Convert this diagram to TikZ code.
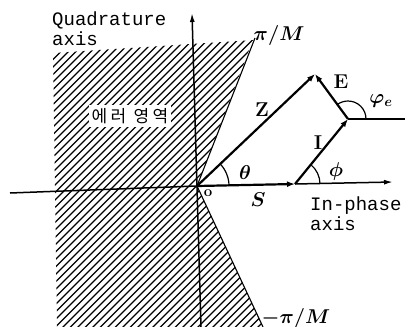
\RequirePackage{fix-cm}
\documentclass[tikz,border=0pt]{standalone}
\usepackage{fontspec}
\newfontfamily\monofont{Liberation Mono}
\newfontfamily\krfont[LetterSpace=20]{Noto Sans CJK KR}
\usetikzlibrary{arrows.meta}
\begin{document}
\begin{tikzpicture}[x=1pt,y=1pt,
  axisline/.style={line width=1.5pt},
  vec/.style={line width=2.2pt,-{Latex[length=8pt,width=6pt]}},
  thinline/.style={line width=1.1pt},
  hatchline/.style={line width=1.2pt},
  lbl/.style={inner sep=0pt, font=\fontsize{20}{22}\selectfont\bfseries\boldmath},
  axlbl/.style={inner sep=0pt, font=\monofont\fontsize{19}{20}\selectfont, align=left, anchor=west},
  anglearc/.style={line width=1.2pt}]
\useasboundingbox (0,0) rectangle (413,-327);
\coordinate (O) at (197,-186);
\coordinate (A) at (295,-184);
\coordinate (B) at (348,-119);
\coordinate (C) at (315,-74);
\coordinate (PM) at (255,-38);
\coordinate (NM) at (263,-327);
\coordinate (Vtop) at (192,-13);
\coordinate (Vbot) at (201,-327);
\coordinate (Hl) at (10,-193);
\coordinate (Hr) at (393,-182);
\coordinate (Bref) at (405,-119);
% hatched error region
\begin{scope}
  \clip (53,-53) -- (253,-40) -- (O) -- (NM) -- (57,-327) -- cycle;
  \foreach \k in {-600,-592.5,...,-80} \draw[hatchline] (0,\k) -- (420,{\k+420});
\end{scope}
\draw[thinline] (O) -- (PM);
\draw[thinline] (O) -- (NM);
% axes
\draw[axisline] (Hl) -- (O);
\draw[axisline,-{Latex[length=9pt,width=5pt]}] (A) -- (Hr);
\draw[axisline,-{Latex[length=9pt,width=5pt]}] (Vbot) -- (Vtop);
\node[fill=white, inner sep=3pt, font=\krfont\fontsize{17}{20}\selectfont] (err) at (130,-116) {에러 영역};
% vectors
\draw[vec] (O) -- (A);
\draw[vec] (A) -- (B);
\draw[vec] (O) -- (C);
\draw[vec] (B) -- (C);
\draw[thinline] (B) -- (Bref);
% angle arcs
\draw[anglearc] ([shift={(0:32)}]O) arc[start angle=0,end angle=43.5,radius=32];
\draw[anglearc] ([shift={(0:25)}]A) arc[start angle=0,end angle=50.8,radius=25];
\draw[anglearc] ([shift={(0:18)}]B) arc[start angle=0,end angle=126.3,radius=18];
% axis labels
\node[axlbl] (qlbl) at (52,-29) {Quadrature\\axis};
\node[axlbl] (plbl) at (310,-214) {In-phase\\axis};
% labels
\node[lbl] (lZ) at (262,-110) {Z};
\node[lbl] (lE) at (341,-82) {E};
\node[lbl] (lI) at (318,-143) {I};
\node[lbl] (lS) at (258,-200) {$S$};
\node[lbl, font=\fontsize{15}{17}\selectfont\bfseries] (lO) at (208,-193) {o};
\node[lbl] (lth) at (245,-173) {$\theta$};
\node[lbl] (lph) at (336,-171) {$\phi$};
\node[lbl] (lphe) at (381,-101) {$\varphi_e$};
\node[lbl] (lpm) at (279,-35) {$\pi/M$};
\node[lbl] (lnm) at (296,-318) {$-\pi/M$};
\end{tikzpicture}
\end{document}
